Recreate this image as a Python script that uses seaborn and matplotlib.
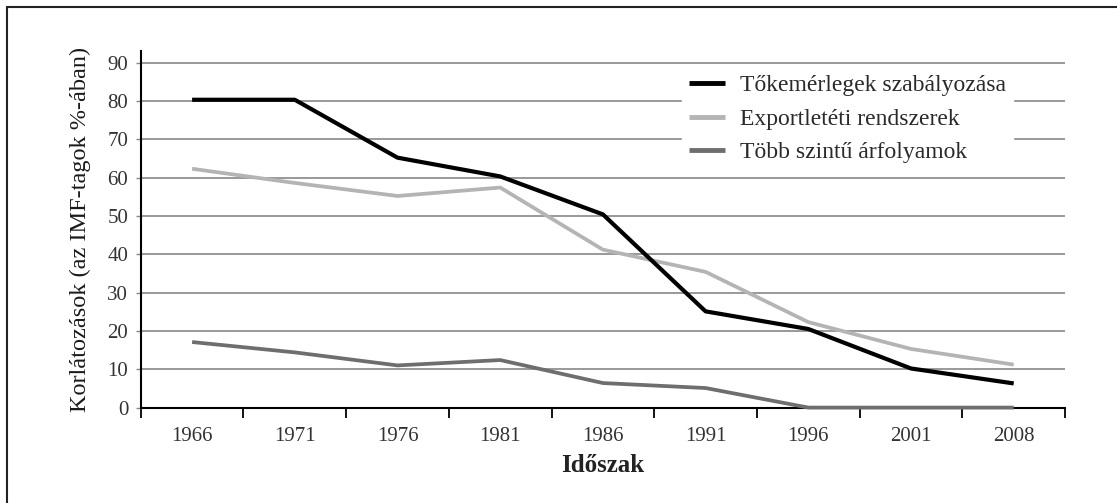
import numpy as np
import pandas as pd
import seaborn as sns
import matplotlib.pyplot as plt
from matplotlib.lines import Line2D
from matplotlib.ticker import FixedLocator, FixedFormatter, NullFormatter

periods = ['1966', '1971', '1976', '1981', '1986', '1991', '1996', '2001', '2008']
tokemerleg = [80.3, 80.3, 65.2, 60.3, 50.4, 25.1, 20.5, 10.2, 6.3]
exportleteti = [62.3, 58.6, 55.2, 57.4, 41.2, 35.4, 22.3, 15.3, 11.2]
tobb_szintu = [17.1, 14.4, 11.0, 12.4, 6.4, 5.1, 0.0, 0.0, 0.0]

series_names = ['Tőkemérlegek szabályozása', 'Exportletéti rendszerek', 'Több szintű árfolyamok']
series_vals = [tokemerleg, exportleteti, tobb_szintu]
series_colors = ['#000000', '#b4b4b4', '#6e6e6e']
y_ticks = [0, 10, 20, 30, 40, 50, 60, 70, 80, 90]

sns.set_theme(style='white')
plt.rcParams['font.family'] = ['Liberation Serif', 'DejaVu Serif']

fig = plt.figure(figsize=(11.17, 5.03), dpi=100)
ax = fig.add_axes([0.126, 0.1897, 0.8275, 0.7095])

# outer frame (top and left edge only)
fig.add_artist(Line2D([0.00627, 1.0], [0.986, 0.986], transform=fig.transFigure, color='#222222', lw=1.5))
fig.add_artist(Line2D([0.00627, 0.00627], [0.0, 0.986], transform=fig.transFigure, color='#222222', lw=1.5))

zorders = [5, 4, 3]
for name, vals, col, z in zip(series_names, series_vals, series_colors, zorders):
    lw = 3.0 if col == '#000000' else 2.7
    sns.lineplot(x=periods, y=vals, ax=ax, color=col, lw=lw, label=name,
                 zorder=z, clip_on=False, solid_capstyle='butt')

ax.set_xlim(-0.5, 8.5)
ax.set_ylim(0, 93.1)
ax.xaxis.set_major_locator(FixedLocator(np.arange(-0.5, 9.0, 1.0)))
ax.xaxis.set_major_formatter(NullFormatter())
ax.xaxis.set_minor_locator(FixedLocator(np.arange(0, 9)))
ax.xaxis.set_minor_formatter(FixedFormatter(periods))
ax.tick_params(axis='x', which='major', direction='out', length=7.5, width=1.3, color='black', bottom=True)
ax.tick_params(axis='x', which='minor', length=0, pad=14, labelsize=15, labelcolor='#333333')

ax.set_yticks(y_ticks)
ax.tick_params(axis='y', which='major', direction='out', length=3.5, width=1.0, color='#888888',
               pad=5.5, labelsize=15, labelcolor='#333333', left=True)
ax.yaxis.grid(True, color='#888888', lw=1.2)
ax.xaxis.grid(False)
ax.set_axisbelow(True)

for side in ['top', 'right']:
    ax.spines[side].set_visible(False)
for side in ['left', 'bottom']:
    ax.spines[side].set_color('black')
    ax.spines[side].set_linewidth(1.5)

ax.set_ylabel('Korlátozások (az IMF-tagok %-ában)', fontsize=17.5, color='#1a1a1a', labelpad=12)
ax.set_xlabel('Időszak', fontsize=18, fontweight='bold', color='#222222', labelpad=6)

leg = ax.legend(loc='upper left', bbox_to_anchor=(0.5856, 0.952), borderaxespad=0,
                frameon=True, facecolor='white', edgecolor='white', framealpha=1.0,
                fontsize=17, handlelength=1.53, handletextpad=0.64, labelspacing=0.5,
                borderpad=0.3, fancybox=False)
for txt in leg.get_texts():
    txt.set_color('#2a2a2a')
for h in leg.get_lines():
    h.set_linewidth(3.5)
    h.set_solid_capstyle('butt')

fig.savefig('out.png', dpi=100)
